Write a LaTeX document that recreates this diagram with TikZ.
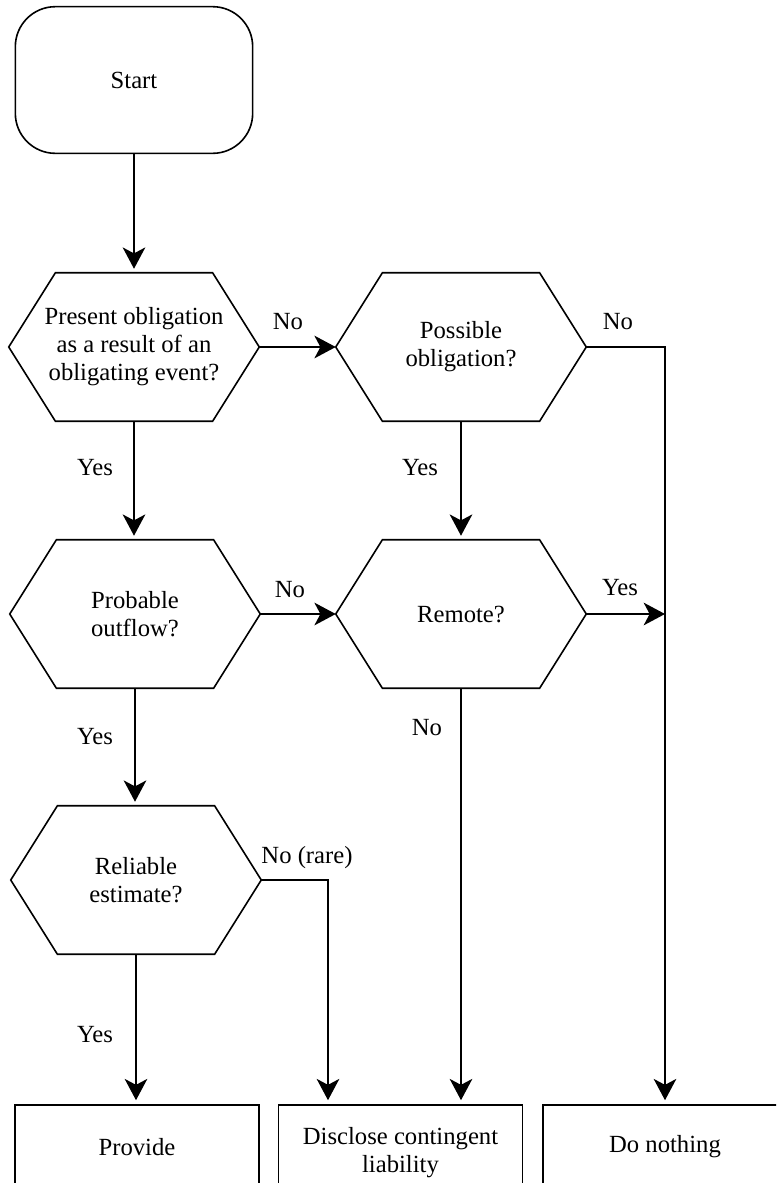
\documentclass[tikz,border=0pt]{standalone}
\usepackage{fontspec}
\setmainfont{Liberation Serif}
\usetikzlibrary{arrows.meta}
\newcommand\hexdraw[1]{\draw[ln] ([xshift=35pt]#1.north west) -- ([xshift=-35pt]#1.north east) -- (#1.east) -- ([xshift=-35pt]#1.south east) -- ([xshift=35pt]#1.south west) -- (#1.west) -- cycle;}
\begin{document}
\begin{tikzpicture}[x=0.75pt,y=-0.75pt,
  every node/.style={font=\fontsize{18.5}{21}\selectfont},
  ln/.style={line width=1.2pt},
  arr/.style={ln,-{Stealth[length=16pt,width=17pt,inset=4.5pt]}},
  varr/.style={arr,shorten >=3pt},
  hexnode/.style={minimum width=187.5pt,minimum height=111pt,inner sep=0pt,align=center},
  termbox/.style={draw,ln,minimum width=183pt,minimum height=63pt,inner sep=0pt,align=center},
  startbox/.style={draw,ln,rounded corners=30pt,minimum width=178pt,minimum height=110pt,inner sep=0pt},
  lbl/.style={inner sep=0pt}]
\useasboundingbox (0,0) rectangle (776,1183);
\clip (0,0) rectangle (776,1183);

% nodes
\node[startbox] (start) at (134,80) {Start};
\node[hexnode] (h1) at (134,347) {Present obligation\\as a result of an\\obligating event?};
\node[hexnode] (h2) at (461,347) {Possible\\obligation?};
\node[hexnode] (h3) at (135,614) {Probable\\outflow?};
\node[hexnode] (h4) at (461,614) {Remote?};
\node[hexnode] (h5) at (136,880) {Reliable\\estimate?};
\hexdraw{h1}
\hexdraw{h2}
\hexdraw{h3}
\hexdraw{h4}
\hexdraw{h5}
\node[termbox] (prov) at (137,1147) {Provide};
\node[termbox] (disc) at (400.5,1147) {};
\node[lbl,align=center] (disct) at (400.5,1153) {Disclose contingent\\liability};
\node[termbox] (none) at (665,1147) {Do nothing};

% connectors
\draw[varr] (start.south) -- (h1.north);
\draw[arr] (h1.east) -- (h2.west);
\coordinate (c1) at (665,347);
\draw[varr] (h2.east) -- (c1) -- (none.north);
\draw[varr] (h1.south) -- (h1.south |- h3.north);
\draw[varr] (h2.south) -- (h2.south |- h4.north);
\draw[arr] (h3.east) -- (h4.west);
\draw[arr] (h4.east) -- (c1 |- h4.east);
\draw[varr] (h3.south) -- (h3.south |- h5.north);
\coordinate (c2) at (328,880);
\draw[varr] (h5.east) -- (c2) -- (c2 |- disc.north);
\draw[varr] (h4.south) -- (h4.south |- disc.north);
\draw[varr] (h5.south) -- (h5.south |- prov.north);

% labels
\node[lbl] (l1) at (288,322) {No};
\node[lbl] (l2) at (618,322) {No};
\node[lbl] (l3) at (95,468) {Yes};
\node[lbl] (l4) at (420,468) {Yes};
\node[lbl] (l5) at (290,590) {No};
\node[lbl] (l6) at (620,588) {Yes};
\node[lbl] (l7) at (95,737) {Yes};
\node[lbl] (l8) at (427,728) {No};
\node[lbl] (l9) at (307,858) {No (rare)};
\node[lbl] (l10) at (95,1035) {Yes};
\end{tikzpicture}
\end{document}
